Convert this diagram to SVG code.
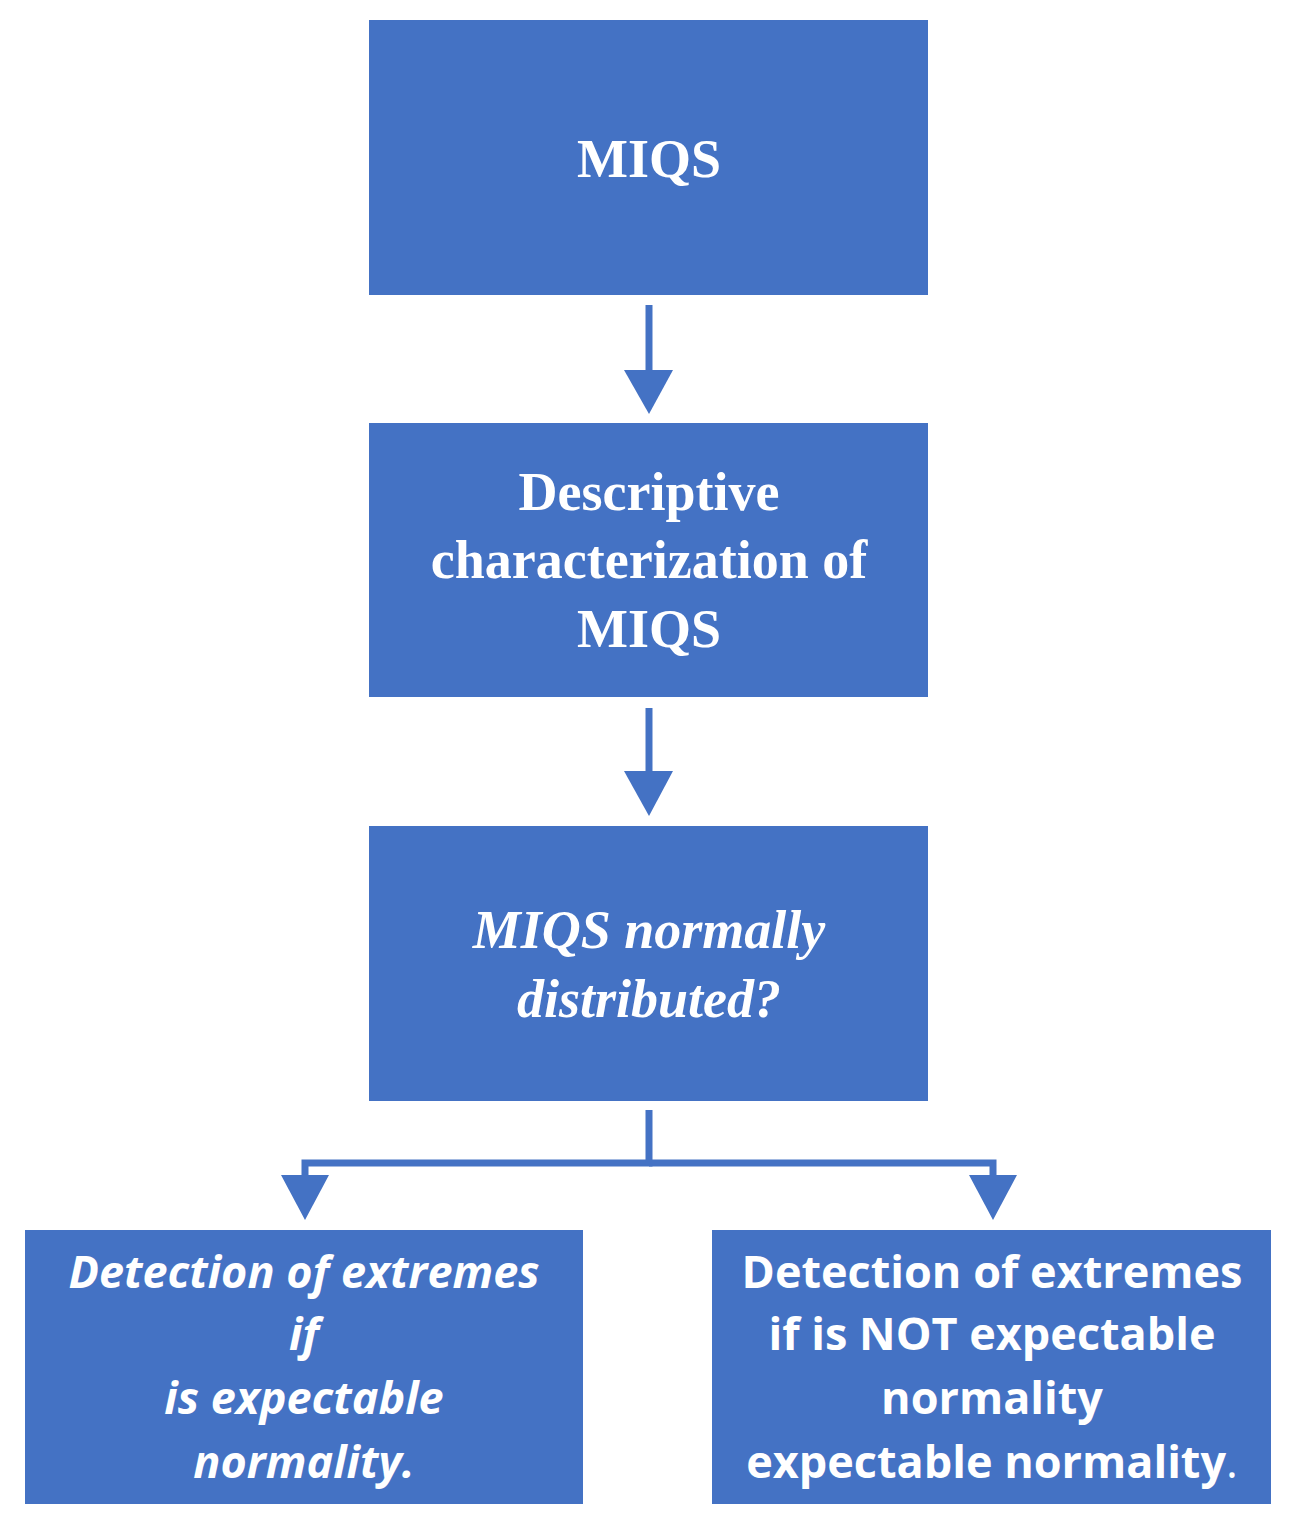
<svg xmlns="http://www.w3.org/2000/svg" width="1300" height="1528" viewBox="0 0 1300 1528">
<style>
.box{fill:#4472C4}
.ser{font-family:"Liberation Serif","DejaVu Serif",serif;font-size:54px;font-weight:bold;fill:#fff;text-anchor:middle}
.sans{font-family:"Open Sans","Liberation Sans",sans-serif;font-size:45px;font-weight:bold;fill:#fff;text-anchor:middle}
.ln{stroke:#4472C4;stroke-width:7;fill:none}
.ah{fill:#4472C4}
</style>
<rect width="1300" height="1528" fill="#fff"/>
<g id="n1"><rect class="box" x="369" y="20" width="559" height="275"/><text class="ser" x="649" y="177">MIQS</text></g>
<g id="n2"><rect class="box" x="369" y="423" width="559" height="274"/>
<text class="ser" x="649" y="510">Descriptive</text><text class="ser" x="649" y="578">characterization of</text><text class="ser" x="649" y="647">MIQS</text></g>
<g id="n3"><rect class="box" x="369" y="826" width="559" height="275"/>
<text class="ser" x="649" y="948" font-style="italic" font-weight="normal">MIQS normally</text><text class="ser" x="649" y="1017" font-style="italic" font-weight="normal">distributed?</text></g>
<g id="n4"><rect class="box" x="25" y="1230" width="558" height="274"/>
<text class="sans" font-style="italic" x="304" y="1288">Detection of extremes</text>
<text class="sans" font-style="italic" x="304" y="1350">if</text>
<text class="sans" font-style="italic" x="304" y="1414">is expectable</text>
<text class="sans" font-style="italic" x="304" y="1478">normality.</text></g>
<g id="n5"><rect class="box" x="712" y="1230" width="559" height="274"/>
<text class="sans" x="992" y="1288">Detection of extremes</text>
<text class="sans" x="992" y="1350">if is NOT expectable</text>
<text class="sans" x="992" y="1414">normality</text>
<text class="sans" x="992" y="1478">expectable normality<tspan font-weight="normal">.</tspan></text></g>
<g id="connectors">
<line class="ln" x1="649" y1="305" x2="649" y2="372"/><polygon class="ah" points="624,370 673,370 649,414"/>
<line class="ln" x1="649" y1="708" x2="649" y2="773"/><polygon class="ah" points="624,771 673,771 649,816"/>
<polyline class="ln" points="649,1110 649,1163 305,1163 305,1178"/>
<polyline class="ln" points="649,1163 993,1163 993,1178"/>
<polygon class="ah" points="281,1175 329,1175 305,1220"/>
<polygon class="ah" points="969,1175 1017,1175 993,1220"/>
</g>
</svg>
